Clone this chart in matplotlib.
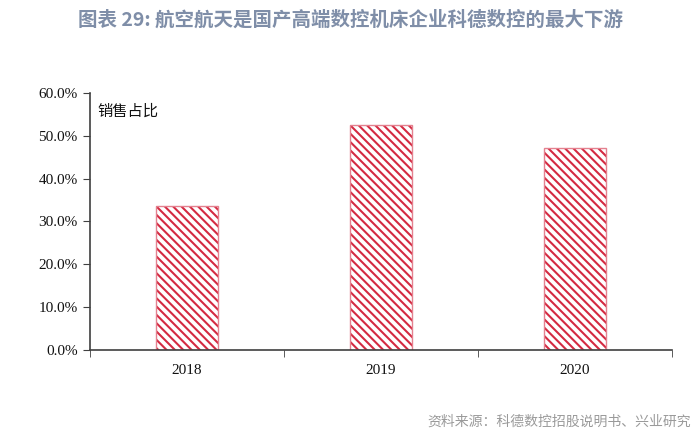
import numpy as np
import matplotlib
matplotlib.use("Agg")
import matplotlib.pyplot as plt
from matplotlib.ticker import FuncFormatter

plt.rcParams['font.family'] = ['Noto Sans CJK SC', 'DejaVu Sans']
plt.rcParams['hatch.linewidth'] = 1.5

years = ['2018', '2019', '2020']
share = [33.7, 52.4, 47.1]  # 销售占比 %

fig = plt.figure(figsize=(7, 4.42), dpi=100)
ax = fig.add_axes([0.1286, 0.208, 0.8314, 0.582])

x = np.arange(len(years))
# hatch layer (hatch takes the edge colour), then a lighter outline on top
ax.bar(x, share, width=0.32, facecolor='white', edgecolor='#D42A42',
       linewidth=0, hatch='\\\\\\\\')
ax.bar(x, share, width=0.32, fill=False, edgecolor='#E4818F', linewidth=1.0)

ax.set_xlim(-0.5, len(years) - 0.5)
ax.set_ylim(0, 60)
ax.set_yticks(np.arange(0, 61, 10))
ax.yaxis.set_major_formatter(FuncFormatter(lambda v, p: f'{v:.1f}%'))

ax.set_xticks(x)
ax.set_xticklabels(years)
ax.set_xticks(np.arange(-0.5, len(years), 1), minor=True)
ax.tick_params(axis='x', which='major', length=0, pad=10)
ax.tick_params(axis='x', which='minor', length=5, direction='out', color='#404040')
ax.tick_params(axis='y', length=5, direction='out', color='#404040', pad=4)

for lab in ax.get_xticklabels() + ax.get_yticklabels():
    lab.set_fontfamily('Liberation Serif')
    lab.set_fontsize(11)
    lab.set_color('#111111')

for s in ['top', 'right']:
    ax.spines[s].set_visible(False)
for s in ['left', 'bottom']:
    ax.spines[s].set_color('#404040')
    ax.spines[s].set_linewidth(1.2)

ax.text(0.012, 0.93, '销售占比', transform=ax.transAxes, fontsize=11,
        color='#111111', va='center', ha='left')

fig.text(0.5, 0.955, '图表 29: 航空航天是国产高端数控机床企业科德数控的最大下游',
         ha='center', va='center', fontsize=14, fontweight='bold', color='#7F8EA8')
fig.text(0.987, 0.045, '资料来源：科德数控招股说明书、兴业研究',
         ha='right', va='center', fontsize=10, color='#9A9A9A')

fig.savefig('out.png', dpi=100)
